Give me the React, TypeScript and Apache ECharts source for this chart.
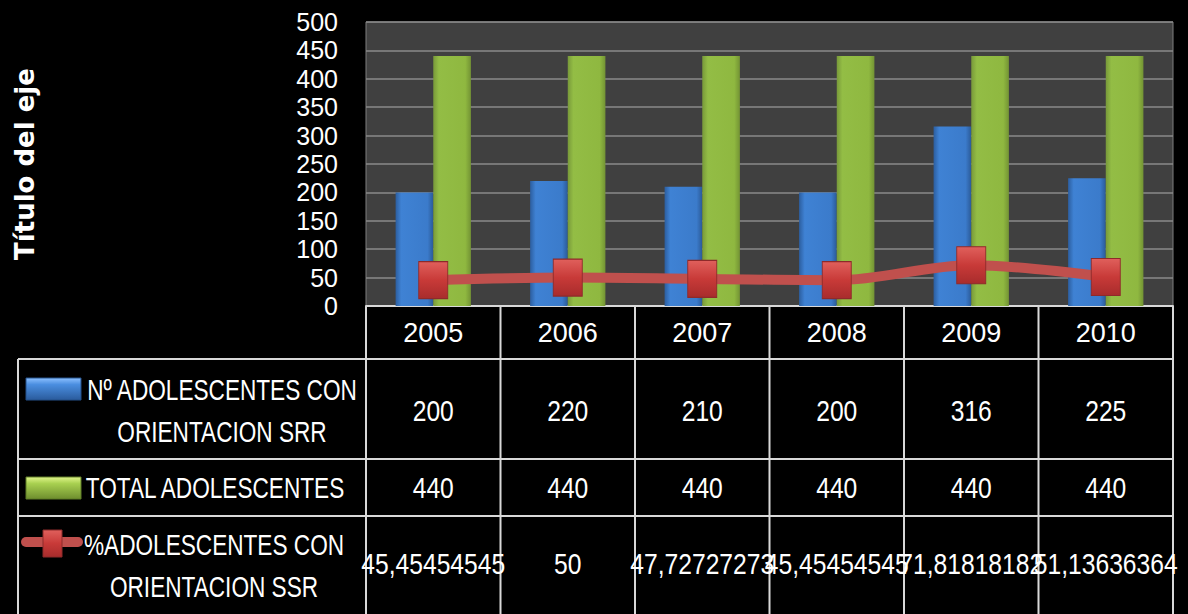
import React, { useEffect, useRef } from "react";
import * as echarts from "echarts";

const years = ["2005", "2006", "2007", "2008", "2009", "2010"];
const countValues = [200, 220, 210, 200, 316, 225];
const totalValues = [440, 440, 440, 440, 440, 440];
const pctValues = [45.45454545, 50, 47.72727273, 45.45454545, 71.81818182, 51.13636364];
const seriesNames = [
  "Nº ADOLESCENTES CON\nORIENTACION SRR",
  "TOTAL ADOLESCENTES",
  "%ADOLESCENTES CON\nORIENTACION SSR",
];
const axisTitle = "Título del eje";
const yMin = 0;
const yMax = 500;
const yStep = 50;

const FONT = "'Liberation Sans', Arial, sans-serif";
const LINE = "#d9d9d9";

const fmt = (v: number) => String(v).replace(".", ",");

export default function App() {
  const ref = useRef<HTMLDivElement>(null);
  useEffect(() => {
    if (!ref.current) return;
    const chart = echarts.init(ref.current, null, { renderer: "svg" });
    const blue = new echarts.graphic.LinearGradient(0, 0, 1, 0, [
      { offset: 0, color: "#2c5e9f" },
      { offset: 0.15, color: "#3f82d4" },
      { offset: 0.85, color: "#3b7bcb" },
      { offset: 1, color: "#2b5a98" },
    ]);
    const green = new echarts.graphic.LinearGradient(0, 0, 1, 0, [
      { offset: 0, color: "#78993a" },
      { offset: 0.15, color: "#93bd45" },
      { offset: 0.85, color: "#8fb840" },
      { offset: 1, color: "#739334" },
    ]);
    const red = new echarts.graphic.LinearGradient(0, 0, 0, 1, [
      { offset: 0, color: "#e0605c" },
      { offset: 0.5, color: "#c83a38" },
      { offset: 1, color: "#a82c2c" },
    ]);
    const gridTop = 22;
    const gridBottomY = 306;
    chart.setOption({
      animation: false,
      backgroundColor: "#000000",
      grid: {
        left: 366,
        right: 15,
        top: gridTop,
        bottom: 614 - gridBottomY,
        show: true,
        backgroundColor: "#404040",
        borderColor: "#7f7f7f",
        borderWidth: 1,
      },
      xAxis: {
        type: "category",
        data: years,
        axisTick: { show: false },
        axisLine: { lineStyle: { color: LINE, width: 2 } },
        axisLabel: {
          color: "#ffffff",
          fontFamily: FONT,
          fontSize: 27,
          margin: 27,
          verticalAlign: "middle",
        },
      },
      yAxis: {
        type: "value",
        min: yMin,
        max: yMax,
        interval: yStep,
        axisLine: { show: false },
        axisTick: { show: false },
        splitLine: { lineStyle: { color: "#8a8a8a", width: 1.5 } },
        axisLabel: {
          color: "#ffffff",
          fontFamily: FONT,
          fontSize: 25,
          margin: 28,
        },
        name: axisTitle,
        nameLocation: "middle",
        nameRotate: 90,
        nameGap: 328,
        nameTextStyle: {
          color: "#ffffff",
          fontFamily: "'DejaVu Sans', sans-serif",
          fontWeight: "bold",
          fontSize: 26,
        },
      },
      series: [
        {
          type: "bar",
          name: seriesNames[0],
          data: countValues,
          barWidth: "28%",
          barGap: "0%",
          itemStyle: { color: blue },
        },
        {
          type: "bar",
          name: seriesNames[1],
          data: totalValues,
          barWidth: "28%",
          barGap: "0%",
          itemStyle: { color: green },
        },
        {
          type: "line",
          name: seriesNames[2],
          data: pctValues,
          smooth: 0.35,
          symbol: "rect",
          symbolSize: [29, 37],
          lineStyle: { color: "#c0504d", width: 10 },
          itemStyle: { color: red, borderColor: "#8e2a2a", borderWidth: 1 },
          z: 5,
        },
      ],
    });

    const c0 = chart.convertToPixel({ xAxisIndex: 0 }, 0) as number;
    const c1 = chart.convertToPixel({ xAxisIndex: 0 }, 1) as number;
    const step = c1 - c0;
    const centers = years.map((_, i) => chart.convertToPixel({ xAxisIndex: 0 }, i) as number);
    const bounds = Array.from({ length: years.length + 1 }, (_, k) => c0 - step / 2 + k * step);
    const right = bounds[bounds.length - 1];
    const tableLeft = 18;
    const rowLines = [359, 459, 516];
    const rowY = [411, 488, 564];
    const rows = [countValues.map(String), totalValues.map(String), pctValues.map(fmt)];

    const g: any[] = [];
    bounds.forEach((x) =>
      g.push({ type: "line", shape: { x1: x, y1: gridBottomY, x2: x, y2: 614 }, style: { stroke: LINE, lineWidth: 2 } })
    );
    g.push({ type: "line", shape: { x1: tableLeft, y1: rowLines[0], x2: tableLeft, y2: 614 }, style: { stroke: LINE, lineWidth: 2 } });
    rowLines.forEach((y) =>
      g.push({ type: "line", shape: { x1: tableLeft, y1: y, x2: right, y2: y }, style: { stroke: LINE, lineWidth: 2 } })
    );
    rows.forEach((vals, r) =>
      vals.forEach((t, i) =>
        g.push({
          type: "text",
          x: centers[i],
          y: rowY[r],
          scaleX: 0.85,
          style: { text: t, fill: "#ffffff", font: `29px ${FONT}`, align: "center", verticalAlign: "middle" },
        })
      )
    );
    // legend keys
    const blueKey = new echarts.graphic.LinearGradient(0, 0, 0, 1, [
      { offset: 0, color: "#8cc0ff" },
      { offset: 0.3, color: "#4a8ee0" },
      { offset: 1, color: "#2a5b9c" },
    ]);
    const greenKey = new echarts.graphic.LinearGradient(0, 0, 0, 1, [
      { offset: 0, color: "#e0f58a" },
      { offset: 0.3, color: "#a8d050" },
      { offset: 1, color: "#6e8e2e" },
    ]);
    g.push({ type: "rect", shape: { x: 26, y: 378, width: 55, height: 22 }, style: { fill: blueKey, stroke: "#24508a", lineWidth: 1 } });
    g.push({ type: "rect", shape: { x: 26, y: 477, width: 55, height: 22 }, style: { fill: greenKey, stroke: "#5f7c26", lineWidth: 1 } });
    g.push({ type: "rect", shape: { x: 21, y: 537, width: 62, height: 10, r: 5 }, style: { fill: "#c0504d" } });
    g.push({ type: "rect", shape: { x: 43, y: 530, width: 19, height: 27 }, style: { fill: red, stroke: "#8e2a2a", lineWidth: 1 } });
    const labelPos = [
      { x: 222, y: 411 },
      { x: 215, y: 488 },
      { x: 214, y: 566 },
    ];
    seriesNames.forEach((n, i) =>
      g.push({
        type: "text",
        x: labelPos[i].x,
        y: labelPos[i].y,
        scaleX: 0.78,
        style: { text: n, fill: "#ffffff", font: `29px ${FONT}`, align: "center", verticalAlign: "middle", lineHeight: 42 },
      })
    );
    chart.setOption({ graphic: g });
    return () => chart.dispose();
  }, []);
  return (
    <div
      ref={ref}
      style={{ position: "fixed", left: 0, top: 0, width: 1188, height: 614, background: "#000" }}
    />
  );
}
